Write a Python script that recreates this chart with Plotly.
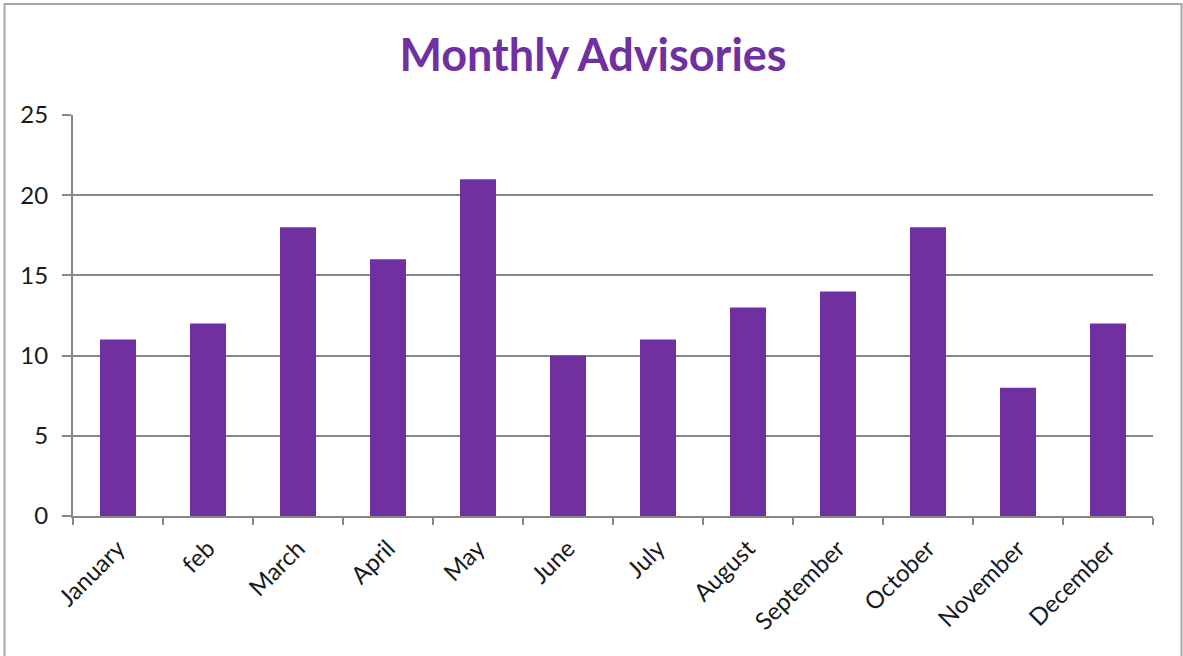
import plotly.graph_objects as go

months = ["January", "feb", "March", "April", "May", "June", "July",
          "August", "September", "October", "November", "December"]
advisories = [11, 12, 18, 16, 21, 10, 11, 13, 14, 18, 8, 12]
y_ticks = [0, 5, 10, 15, 20, 25]

PURPLE = "#7030A0"
GRID = "#878787"

fig = go.Figure(go.Bar(x=months, y=advisories, marker=dict(color=PURPLE, line=dict(width=0))))

fig.update_layout(
    width=1183, height=656,
    margin=dict(l=73, r=30, t=115, b=140),
    paper_bgcolor="white", plot_bgcolor="white",
    bargap=0.6,
    showlegend=False,
    title=dict(text="<b>Monthly Advisories</b>", x=593 / 1183, xanchor="center",
               y=1 - 55 / 656, yanchor="middle",
               font=dict(family="Lato, Open Sans, sans-serif", size=45, color=PURPLE)),
    font=dict(family="Lato, Open Sans, sans-serif", size=24, color="#1a1a1a"),
    shapes=[dict(type="rect", xref="paper", yref="paper",
                 x0=-0.0634, x1=1.0264, y0=-0.36, y1=1.2768,
                 line=dict(color="#a6a6a6", width=2), layer="below")],
)
fig.update_xaxes(
    showline=True, linecolor=GRID, linewidth=2,
    ticks="outside", ticklen=7, tickcolor=GRID, tickwidth=2,
    tickson="boundaries", tickangle=-45, showgrid=False,
    ticklabelstandoff=7,
)
fig.update_yaxes(
    range=[0, 25], tickvals=y_ticks,
    showline=True, linecolor=GRID, linewidth=2,
    ticks="outside", ticklen=9, tickcolor=GRID, tickwidth=2,
    showgrid=True, gridcolor=GRID, gridwidth=2, zeroline=False,
    ticklabelstandoff=9,
)
fig.write_html("out.html", config={"displayModeBar": False},
               post_script="document.body.style.margin='0';")
